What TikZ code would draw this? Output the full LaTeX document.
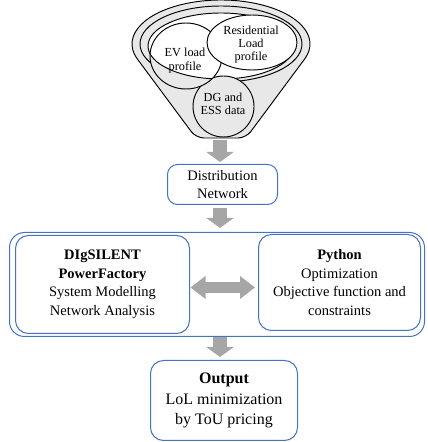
\documentclass[tikz,border=0pt]{standalone}
\usepackage{fontspec}
\setmainfont{Liberation Serif}
\usetikzlibrary{arrows.meta}
\definecolor{boxblue}{RGB}{68,114,196}
\definecolor{arrgray}{RGB}{166,166,166}
\definecolor{fungray}{RGB}{232,232,232}
\tikzset{
  bluebox/.style={draw=boxblue, line width=1pt, rounded corners=10pt, inner sep=0pt, align=center, fill=white},
  blockarrow/.style={draw=arrgray, line width=14pt, -{Triangle[width=27pt,length=10pt]}},
  dblarrow/.style={draw=arrgray, line width=11pt, {Triangle[width=22pt,length=15pt]}-{Triangle[width=22pt,length=15pt]}},
  fline/.style={draw=black, line width=0.95pt},
  ftext/.style={align=center, font=\fontsize{12.3}{13.3}\selectfont, inner sep=0pt},
  btext/.style={font=\fontsize{14.5}{18.5}\selectfont},
}
\begin{document}
\begin{tikzpicture}[x=1pt,y=1pt]
\useasboundingbox (0,0) rectangle (428,442);
% funnel body
\path[fline, fill=fungray] (136.9,383.6) arc[start angle=199.1, end angle=-19.1, x radius=89, y radius=44]
  [rounded corners=8pt] -- (246,304) -- (196,304) [sharp corners] -- cycle;
\path[fline, fill=fungray] (221,398) ellipse[x radius=81, y radius=38];
\path[fline, fill=white] (221,396) ellipse[x radius=73, y radius=33];
% DG circle
\path[fline, fill=fungray] (223.5,335.5) circle[radius=30.5];
% EV circle
\path[fill=fungray] (186,386) ellipse[x radius=36, y radius=33];
\begin{scope}
  \clip (186,386) ellipse[x radius=36, y radius=33];
  \path[fline, fill=white] (221,396) ellipse[x radius=73, y radius=33];
\end{scope}
\path[fline] (186,386) ellipse[x radius=36, y radius=33];
% residential ellipse
\path[fline, fill=white] (252,399.5) ellipse[x radius=45, y radius=27.5];
\node[ftext] (res) at (251,397.5) {Residential\\Load\\profile};
\node[ftext] (ev) at (185,381.5) {EV load\\profile};
\node[ftext] (dg) at (223,338) {DG and\\ESS data};
\coordinate (fb) at (220,302);
% boxes
\node[bluebox, minimum width=110pt, minimum height=40pt, btext] (dist) at (222.5,257.5) {Distribution\\Network};
\node[bluebox, rounded corners=15pt, minimum width=415pt, minimum height=104pt, fill=none] (outer) at (217,157.5) {};
\node[bluebox, rounded corners=13pt, minimum width=174pt, minimum height=98pt, btext] (left) at (102.5,157.5) {\textbf{DIgSILENT}\\\textbf{PowerFactory}\\System Modelling\\Network Analysis};
\node[bluebox, rounded corners=13pt, minimum width=162pt, minimum height=96pt, btext] (right) at (339.5,159.5) {\textbf{Python}\\Optimization\\Objective function and\\constraints};
\node[bluebox, rounded corners=13pt, minimum width=147pt, minimum height=80pt, font=\fontsize{16}{20.5}\selectfont] (out) at (224,41.5) {\textbf{Output}\\LoL minimization\\by ToU pricing};
% arrows
\coordinate (a1e) at (220,280);
\coordinate (a2s) at (220,234);
\coordinate (a2e) at (220,214);
\coordinate (a3s) at (220,104.5);
\coordinate (a3e) at (220,85);
\coordinate (dl) at (190.5,154.5);
\coordinate (dr) at (255,154.5);
\draw[blockarrow] (fb) -- (a1e);
\draw[blockarrow] (a2s) -- (a2e);
\draw[blockarrow] (a3s) -- (a3e);
\draw[dblarrow] (dl) -- (dr);
\end{tikzpicture}
\end{document}
